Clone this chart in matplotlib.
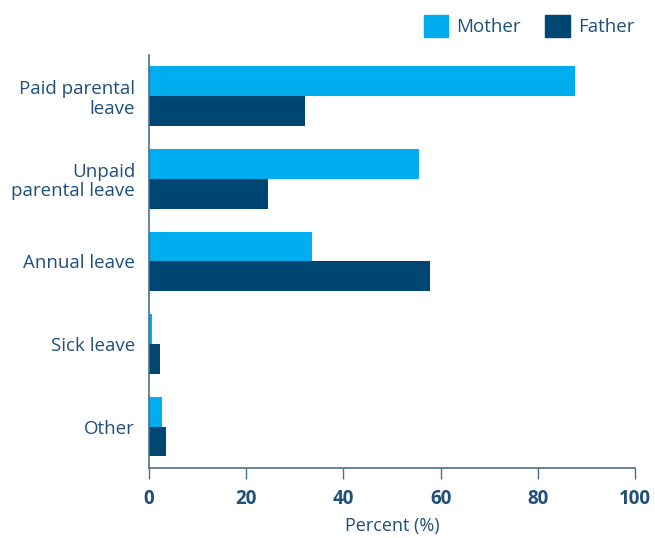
import numpy as np
import matplotlib.pyplot as plt
from matplotlib.patches import Patch

plt.rcParams['font.family'] = ['Open Sans', 'DejaVu Sans']

categories = ['Paid parental\nleave', 'Unpaid\nparental leave', 'Annual leave', 'Sick leave', 'Other']
mother = [87.6, 55.5, 33.5, 0.6, 2.7]
father = [32.0, 24.5, 57.8, 2.3, 3.4]

c_mother = '#00aeef'
c_father = '#004672'
c_text = '#1f4f7a'
c_axis = '#4d6f8e'

fig = plt.figure(figsize=(6.55, 5.38), dpi=100)
ax = fig.add_axes([0.2275, 0.130, 0.742, 0.768])

y = np.arange(len(categories))
h = 0.36
ax.barh(y - h / 2, mother, height=h, color=c_mother, label='Mother')
ax.barh(y + h / 2, father, height=h, color=c_father, label='Father')

ax.set_xlim(0, 100)
ax.set_ylim(len(categories) - 0.5, -0.5)
ax.set_xticks([0, 20, 40, 60, 80, 100])
ax.set_yticks(y)
ax.set_yticklabels(categories, fontsize=13.5, color=c_text, linespacing=1.1)
for lab in ax.get_xticklabels():
    lab.set_fontweight('bold')
ax.tick_params(axis='x', length=8, width=1, color=c_axis, labelsize=13.5,
               labelcolor=c_text, pad=7)
ax.tick_params(axis='y', length=0, pad=10)

for s in ['top', 'right']:
    ax.spines[s].set_visible(False)
for s in ['left', 'bottom']:
    ax.spines[s].set_color(c_axis)
    ax.spines[s].set_linewidth(1.2)

ax.set_xlabel('Percent (%)', fontsize=13, color=c_text, labelpad=6)

handles = [Patch(color=c_mother, label='Mother'), Patch(color=c_father, label='Father')]
leg = fig.legend(handles=handles, loc='upper right', bbox_to_anchor=(0.992, 1.0), ncol=2,
                 frameon=False, fontsize=13.5, handlelength=1.3, handleheight=1.4,
                 handletextpad=0.45, columnspacing=1.3, borderaxespad=0.4)
for t in leg.get_texts():
    t.set_color(c_text)

fig.savefig('out.png', dpi=100)
